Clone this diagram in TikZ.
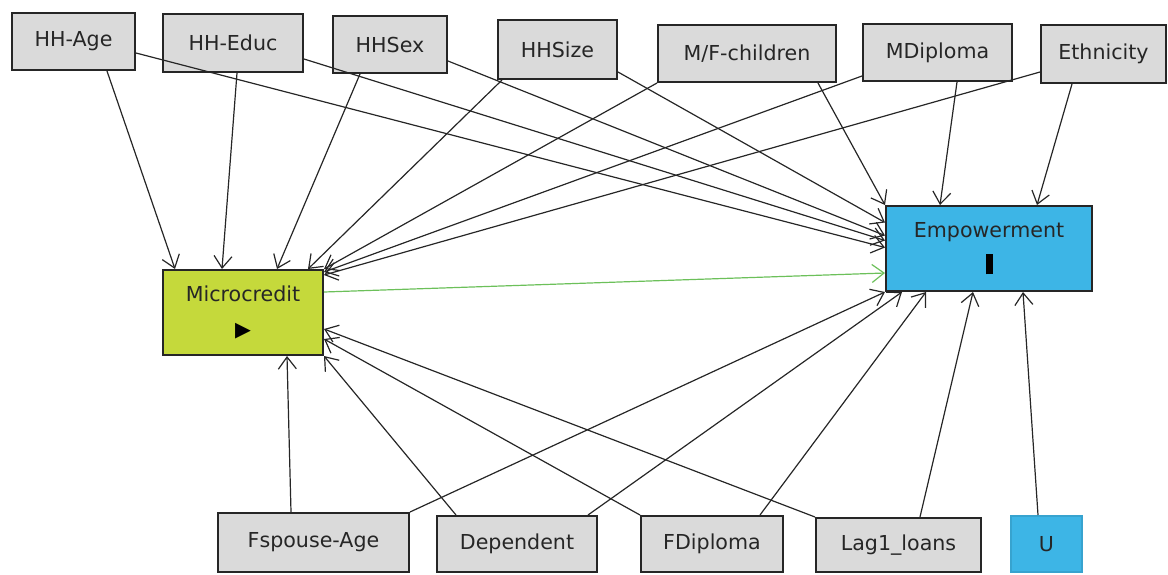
\documentclass[tikz,border=0pt]{standalone}
\usepackage{fontspec}
\setmainfont{DejaVu Sans}
\usetikzlibrary{arrows.meta}
\definecolor{boxgray}{HTML}{DADADA}
\definecolor{microfill}{HTML}{C5D93B}
\definecolor{empblue}{HTML}{3DB5E6}
\definecolor{linkgreen}{HTML}{6CC05A}
\tikzset{
  varnode/.style = {shape=rectangle, draw=black!85, line width=1pt,
                    fill=boxgray, inner sep=0pt, align=center,
                    font=\fontsize{10.3}{12.4}\selectfont, text=black!85},
  treat/.style   = {varnode, fill=microfill},
  outcome/.style = {varnode, fill=empblue},
  latent/.style  = {varnode, fill=empblue, draw=empblue!90!black},
  link/.style    = {draw=black!85, line width=0.6pt,
                    -{Straight Barb[length=6pt,width=9pt]}}
}
\begin{document}
\begin{tikzpicture}[x=0.5pt, y=-0.5pt]
  \useasboundingbox (0,0) rectangle (1168,574);

  \node[varnode, minimum width=61.5pt, minimum height=28.5pt] (hhage)   at (73.5,41.5)  {HH-Age};
  \node[varnode, minimum width=70pt,   minimum height=29pt]   (hheduc)  at (233,43)     {HH-Educ};
  \node[varnode, minimum width=57pt,   minimum height=28.5pt] (hhsex)   at (390,44.5)   {HHSex};
  \node[varnode, minimum width=59.5pt, minimum height=29.5pt] (hhsize)  at (557.5,49.5) {HHSize};
  \node[varnode, minimum width=89pt,   minimum height=28.5pt] (mfchild) at (747,53.5)   {M/F-children};
  \node[varnode, minimum width=74.5pt, minimum height=28.5pt] (mdipl)   at (937.5,52.5) {MDiploma};
  \node[varnode, minimum width=62.5pt, minimum height=29pt]   (ethnic)  at (1103.5,54)  {Ethnicity};

  \node[treat,   minimum width=80pt,  minimum height=42.5pt] (micro) at (243,312.5) {Microcredit\\[5pt]\textcolor{black}{▶}};
  \node[outcome, minimum width=103pt, minimum height=42.5pt] (emp)   at (989,248.5) {Empowerment\\[6pt]\textcolor{black}{\rule{3.5pt}{10pt}}};

  \node[varnode, minimum width=95.5pt, minimum height=29.5pt] (fspouse)  at (313.5,542.5) {Fspouse-Age};
  \node[varnode, minimum width=80pt,   minimum height=28pt]   (depend)   at (517,544)     {Dependent};
  \node[varnode, minimum width=71pt,   minimum height=28pt]   (fdipl)    at (712,544)     {FDiploma};
  \node[varnode, minimum width=82.5pt, minimum height=27pt]   (lagloans) at (898.5,545)   {Lag1\_loans};
  \node[latent,  minimum width=35.5pt, minimum height=28pt]   (unobs)    at (1046.5,544)  {U};

  \draw[link] ([shift={(33.5,0)}]hhage.south) -- ([shift={(13,0)}]micro.north west);
  \draw[link] ([shift={(4,0)}]hheduc.south) -- ([shift={(-21,0)}]micro.north);
  \draw[link] ([shift={(-30,0)}]hhsex.south) -- ([shift={(34,0)}]micro.north);
  \draw[link] ([shift={(5,0)}]hhsize.south west) -- ([shift={(-16,0)}]micro.north east);
  \draw[link] (mfchild.south west) -- (micro.north east);
  \draw[link] ([shift={(0,-6)}]mdipl.south west) -- ([shift={(0,3)}]micro.north east);
  \draw[link] ([shift={(0,-12)}]ethnic.south west) -- ([shift={(0,6)}]micro.north east);

  \draw[link] ([shift={(0,11.5)}]hhage.east) -- ([shift={(0,-1)}]emp.west);
  \draw[link] ([shift={(0,16)}]hheduc.east) -- ([shift={(0,-8)}]emp.west);
  \draw[link] ([shift={(0,16.5)}]hhsex.east) -- ([shift={(0,-13)}]emp.west);
  \draw[link] ([shift={(0,-8)}]hhsize.south east) -- ([shift={(0,-26)}]emp.west);
  \draw[link] ([shift={(-19,0)}]mfchild.south east) -- (emp.north west);
  \draw[link] ([shift={(19.5,0)}]mdipl.south) -- ([shift={(-49,0)}]emp.north);
  \draw[link] ([shift={(-31.5,0)}]ethnic.south) -- ([shift={(48,0)}]emp.north);

  \draw[link, draw=linkgreen] ([shift={(0,-20.5)}]micro.east) -- ([shift={(0,24.5)}]emp.west);

  \draw[link] ([shift={(-22.5,0)}]fspouse.north) -- ([shift={(44,0)}]micro.south);
  \draw[link] (fspouse.north east) -- (emp.south west);
  \draw[link] ([shift={(20,0)}]depend.north west) -- (micro.south east);
  \draw[link] ([shift={(-10,0)}]depend.north east) -- ([shift={(17,0)}]emp.south west);
  \draw[link] (fdipl.north west) -- ([shift={(0,-17)}]micro.south east);
  \draw[link] ([shift={(-24,0)}]fdipl.north east) -- ([shift={(41,0)}]emp.south west);
  \draw[link] (lagloans.north west) -- ([shift={(0,-27)}]micro.south east);
  \draw[link] ([shift={(21.5,0)}]lagloans.north) -- ([shift={(-16,0)}]emp.south);
  \draw[link] ([shift={(-8.5,0)}]unobs.north) -- ([shift={(34,0)}]emp.south);
\end{tikzpicture}
\end{document}
